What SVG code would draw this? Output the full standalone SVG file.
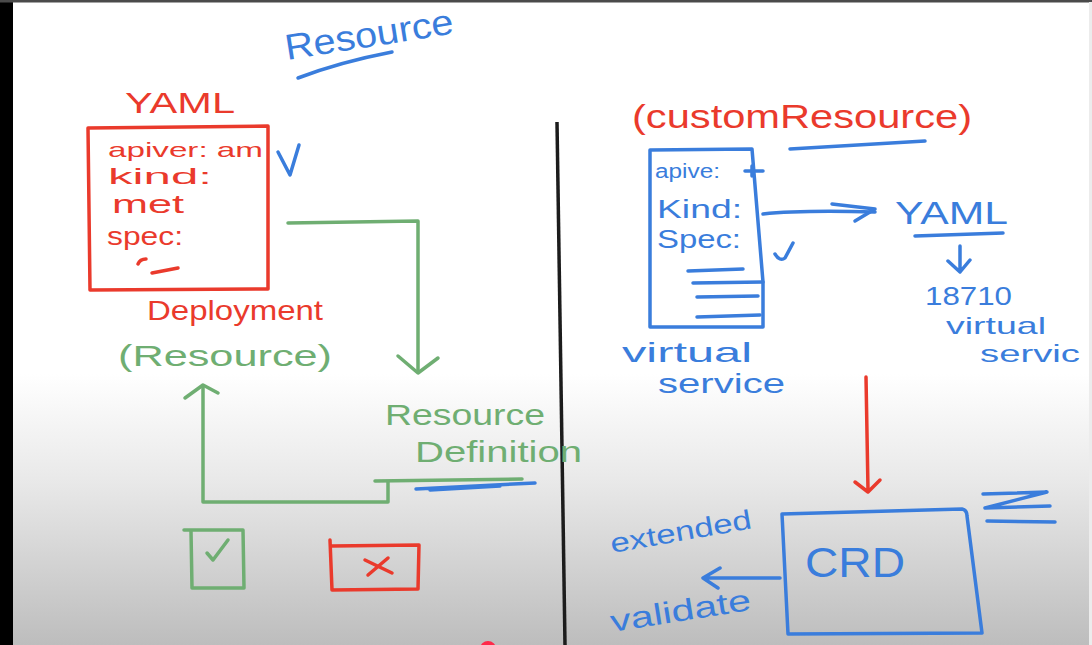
<svg xmlns="http://www.w3.org/2000/svg" width="1092" height="645" viewBox="0 0 1092 645">
<defs>
<linearGradient id="bg" x1="0" y1="0" x2="0" y2="1">
<stop offset="0" stop-color="#ffffff"/>
<stop offset="0.58" stop-color="#ffffff"/>
<stop offset="0.75" stop-color="#e8e8e8"/>
<stop offset="1" stop-color="#bdbdbd"/>
</linearGradient>
</defs>
<style>
text{font-family:"Liberation Sans","DejaVu Sans",sans-serif;}
.r{fill:#ea3a2c}
.b{fill:#3a7ddc}
.g{fill:#6fae72}
.sr{fill:none;stroke:#ea3a2c;stroke-width:3.5;stroke-linecap:round;stroke-linejoin:round}
.sb{fill:none;stroke:#3a7ddc;stroke-width:3.5;stroke-linecap:round;stroke-linejoin:round}
.sg{fill:none;stroke:#6fae72;stroke-width:3.5;stroke-linecap:round;stroke-linejoin:round}
</style>
<rect x="0" y="0" width="1092" height="645" fill="url(#bg)"/>
<rect x="0" y="0" width="13" height="645" fill="#000"/>
<rect x="0" y="0" width="1092" height="2.5" fill="#4a4a4a"/>
<rect x="1089" y="2" width="3" height="643" fill="#ececec"/>
<path d="M557,122 L565,645" stroke="#1c1c1c" stroke-width="3.5" fill="none"/>

<g id="title-resource">
<text class="b" x="287" y="60" font-size="36" textLength="170" lengthAdjust="spacingAndGlyphs" transform="rotate(-9 287 60)">Resource</text>
<path class="sb" d="M298,78 Q340,62 392,52" stroke-width="4.5"/>
</g>

<g id="yaml-deployment">
<text class="r" x="125" y="113" font-size="30" textLength="110" lengthAdjust="spacingAndGlyphs">YAML</text>
<path class="sr" d="M88,128 L268,126 L268,289 L90,290 Z"/>
<text class="r" x="108" y="157" font-size="21" textLength="155" lengthAdjust="spacingAndGlyphs">apiver: am</text>
<text class="r" x="108" y="184" font-size="22" textLength="104" lengthAdjust="spacingAndGlyphs">kind:</text>
<text class="r" x="112" y="213" font-size="26" textLength="72" lengthAdjust="spacingAndGlyphs">met</text>
<text class="r" x="107" y="245" font-size="26" textLength="76" lengthAdjust="spacingAndGlyphs">spec:</text>
<path class="sr" d="M138,264 Q140,259 146,259 M152,273 L178,268"/>
<text class="r" x="147" y="320" font-size="28" textLength="176" lengthAdjust="spacingAndGlyphs">Deployment</text>
</g>

<g id="check-yaml">
<path class="sb" d="M278,152 L290,175 L299,145"/>
</g>

<g id="resource-label">
<text class="g" x="118" y="366" font-size="30" textLength="214" lengthAdjust="spacingAndGlyphs">(Resource)</text>
</g>

<g id="resource-definition">
<text class="g" x="385" y="425" font-size="30" textLength="160" lengthAdjust="spacingAndGlyphs">Resource</text>
<text class="g" x="415" y="462" font-size="30" textLength="167" lengthAdjust="spacingAndGlyphs">Definition</text>
<path class="sg" d="M375,481 L522,479"/>
<path class="sb" d="M416,489 L535,483 M430,490 L500,486" stroke-width="4"/>
</g>

<g id="check-box">
<path class="sg" d="M184,530 L243,530 L244,588 L192,588 L191,531"/>
<path class="sg" d="M207,553 L213,560 L228,540"/>
</g>

<g id="cross-box">
<path class="sr" d="M330,540 L332,590 L418,589 L419,545 L332,546"/>
<path class="sr" d="M365,560 L392,573 M368,575 L388,558"/>
</g>

<g id="custom-resource">
<text class="r" x="632" y="128" font-size="34" textLength="340" lengthAdjust="spacingAndGlyphs">(customResource)</text>
<path class="sb" d="M790,149 L925,141" stroke-width="5"/>
</g>

<g id="virtual-service-box">
<path class="sb" d="M650,150 L752,149 L763,282 L763,327 L650,327 Z"/>
<text class="b" x="655" y="178" font-size="20" textLength="65" lengthAdjust="spacingAndGlyphs">apive:</text>
<path class="sb" d="M745,171 L763,171 M752,166 L752,176" stroke-width="2.5"/>
<text class="b" x="657" y="218" font-size="26" textLength="85" lengthAdjust="spacingAndGlyphs">Kind:</text>
<text class="b" x="657" y="248" font-size="25" textLength="84" lengthAdjust="spacingAndGlyphs">Spec:</text>
<path class="sb" d="M688,271 L743,269 M693,283 L763,282 M697,297 L758,296 M697,317 L760,315"/>
<path class="sb" d="M775,254 Q780,262 785,258 L793,243"/>
<text class="b" x="622" y="362" font-size="28" textLength="130" lengthAdjust="spacingAndGlyphs">virtual</text>
<text class="b" x="658" y="393" font-size="28" textLength="127" lengthAdjust="spacingAndGlyphs">service</text>
</g>

<g id="yaml-right">
<text class="b" x="895" y="224" font-size="32" textLength="113" lengthAdjust="spacingAndGlyphs">YAML</text>
<path class="sb" d="M915,236 L1003,233"/>
<text class="b" x="925" y="305" font-size="25" textLength="87" lengthAdjust="spacingAndGlyphs">18710</text>
<text class="b" x="946" y="334" font-size="24" textLength="100" lengthAdjust="spacingAndGlyphs">virtual</text>
<text class="b" x="980" y="362" font-size="23" textLength="100" lengthAdjust="spacingAndGlyphs">servic</text>
</g>

<g id="crd">
<path class="sb" d="M782,514 L962,509 Q967,510 967,516 L982,633 L788,634 Z"/>
<text class="b" x="805" y="577" font-size="42" textLength="100" lengthAdjust="spacingAndGlyphs">CRD</text>
<path class="sb" d="M983,494 L1047,492 L985,508 L1050,506 M987,521 L1055,522" stroke-width="4"/>
<text class="b" x="612" y="553" font-size="27" textLength="143" lengthAdjust="spacingAndGlyphs" transform="rotate(-10 612 553)">extended</text>
<text class="b" x="612" y="632" font-size="30" textLength="142" lengthAdjust="spacingAndGlyphs" transform="rotate(-9 612 632)">validate</text>
</g>

<g id="connectors">
<path class="sg" d="M288,223 L418,221 L418,370"/>
<path class="sg" d="M398,356 L418,373 L438,358"/>
<path class="sg" d="M388,482 L388,502 L203,502 L203,387"/>
<path class="sg" d="M185,398 L203,385 L218,393"/>
<path class="sb" d="M763,214 Q800,210 875,212"/>
<path class="sb" d="M832,204 L875,209 L855,221"/>
<path class="sb" d="M960,246 L960,270 M948,261 L960,272 L970,260"/>
<path class="sr" d="M866,377 L868,490 M855,482 L868,492 L880,480"/>
<path class="sb" d="M780,578 L703,578 M720,568 L703,578 L718,588"/>
</g>

<circle cx="488" cy="649" r="8" fill="#ff2a4a"/>
</svg>
